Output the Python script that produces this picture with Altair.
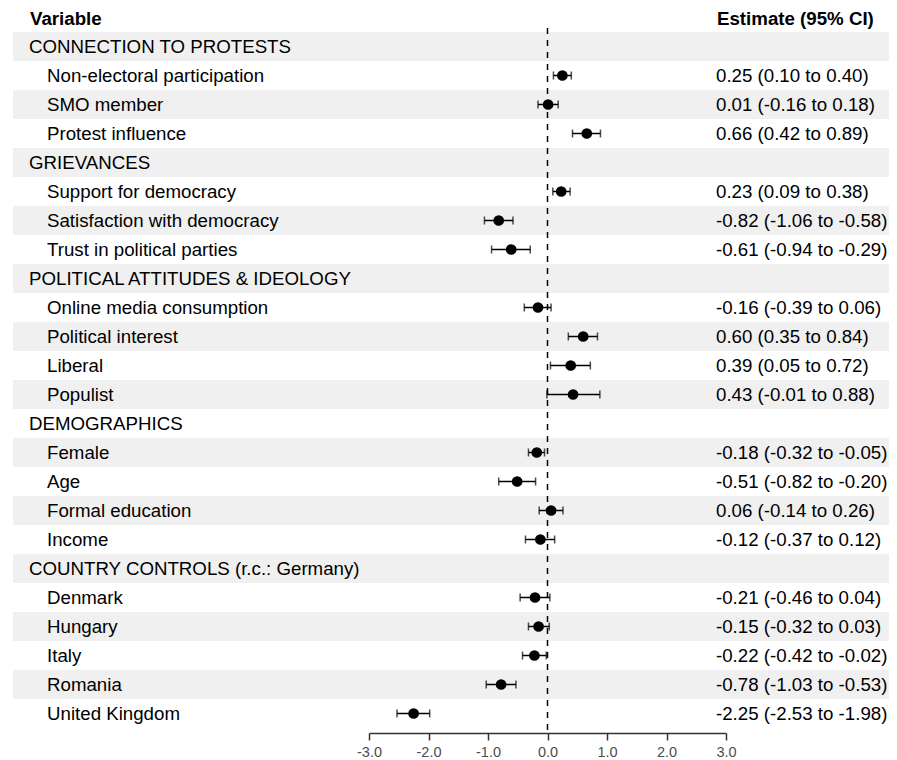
import altair as alt
import pandas as pd

labels = [
    "CONNECTION TO PROTESTS", "Non-electoral participation", "SMO member", "Protest influence",
    "GRIEVANCES", "Support for democracy", "Satisfaction with democracy", "Trust in political parties",
    "POLITICAL ATTITUDES & IDEOLOGY", "Online media consumption", "Political interest", "Liberal", "Populist",
    "DEMOGRAPHICS", "Female", "Age", "Formal education", "Income",
    "COUNTRY CONTROLS (r.c.: Germany)", "Denmark", "Hungary", "Italy", "Romania", "United Kingdom",
]
is_header = [1, 0, 0, 0, 1, 0, 0, 0, 1, 0, 0, 0, 0, 1, 0, 0, 0, 0, 1, 0, 0, 0, 0, 0]
estimate = [None, 0.25, 0.01, 0.66, None, 0.23, -0.82, -0.61, None, -0.16, 0.60, 0.39, 0.43,
            None, -0.18, -0.51, 0.06, -0.12, None, -0.21, -0.15, -0.22, -0.78, -2.25]
ci_low = [None, 0.10, -0.16, 0.42, None, 0.09, -1.06, -0.94, None, -0.39, 0.35, 0.05, -0.01,
          None, -0.32, -0.82, -0.14, -0.37, None, -0.46, -0.32, -0.42, -1.03, -2.53]
ci_high = [None, 0.40, 0.18, 0.89, None, 0.38, -0.58, -0.29, None, 0.06, 0.84, 0.72, 0.88,
           None, -0.05, -0.20, 0.26, 0.12, None, 0.04, 0.03, -0.02, -0.53, -1.98]
x_ticks = [-3, -2, -1, 0, 1, 2, 3]

def fmt(e, l, h):
    if e is None:
        return ""
    return f"{e:.2f} ({l:.2f} to {h:.2f})"

df = pd.DataFrame({
    "label": labels,
    "header": is_header,
    "est": estimate,
    "lo": ci_low,
    "hi": ci_high,
    "idx": list(range(len(labels))),
})
df["txt"] = [fmt(e, l, h) for e, l, h in zip(estimate, ci_low, ci_high)]

FONT = "Liberation Sans"
FS = 18.7
W = 357
H = 696

y_enc = alt.Y("label:N", sort=labels, axis=None,
              scale=alt.Scale(paddingInner=0, paddingOuter=0))
x_scale = alt.Scale(domain=[-3, 3], nice=False, zero=False)

base = alt.Chart(df)

shade = base.transform_filter("datum.idx % 2 == 0").mark_rect(color="#f0f0f0").encode(
    y=y_enc, x=alt.value(-356), x2=alt.value(520)
)

hdr_text = base.transform_filter("datum.header == 1").mark_text(
    align="left", baseline="middle", font=FONT, fontSize=FS, color="black"
).encode(y=y_enc, x=alt.value(-340), text="label:N")

item_text = base.transform_filter("datum.header == 0").mark_text(
    align="left", baseline="middle", font=FONT, fontSize=FS, color="black"
).encode(y=y_enc, x=alt.value(-322), text="label:N")

est_text = base.transform_filter("datum.header == 0").mark_text(
    align="left", baseline="middle", font=FONT, fontSize=FS, color="black"
).encode(y=y_enc, x=alt.value(347), text="txt:N")

zero_rule = alt.Chart(pd.DataFrame({"z": [0]})).mark_rule(
    color="black", strokeDash=[6, 6], strokeWidth=1.5
).encode(x=alt.X("z:Q", scale=x_scale), y=alt.value(-4), y2=alt.value(H + 5))

pts = base.transform_filter("datum.header == 0")

ci_line = pts.mark_rule(color="black", strokeWidth=1.5).encode(
    y=y_enc,
    x=alt.X("lo:Q", scale=x_scale,
            axis=alt.Axis(values=x_ticks, title=None, grid=False, offset=5,
                          labelExpr="datum.value < 0 ? '-' + format(-datum.value, '.1f') : format(datum.value, '.1f')",
                          tickSize=7, tickColor="#333333", domainColor="#333333",
                          tickWidth=1.5, domainWidth=1.5,
                          labelColor="#4d4d4d", labelFont=FONT, labelFontSize=14.5,
                          labelPadding=5, labelFlush=False, labelOverlap=False)),
    x2="hi:Q",
)
cap_lo = pts.mark_tick(color="black", orient="vertical", size=8, thickness=1.5).encode(
    y=y_enc, x=alt.X("lo:Q", scale=x_scale)
)
cap_hi = pts.mark_tick(color="black", orient="vertical", size=8, thickness=1.5).encode(
    y=y_enc, x=alt.X("hi:Q", scale=x_scale)
)
dots = pts.mark_circle(color="black", opacity=1, size=115).encode(
    y=y_enc, x=alt.X("est:Q", scale=x_scale)
)

head_l = alt.Chart(pd.DataFrame({"t": ["Variable"]})).mark_text(
    align="left", baseline="middle", font=FONT, fontSize=FS, fontWeight="bold", color="black"
).encode(x=alt.value(-339), y=alt.value(-13), text="t:N")
head_r = alt.Chart(pd.DataFrame({"t": ["Estimate (95% CI)"]})).mark_text(
    align="left", baseline="middle", font=FONT, fontSize=FS, fontWeight="bold", color="black"
).encode(x=alt.value(348), y=alt.value(-13), text="t:N")

chart = alt.layer(
    shade, zero_rule, ci_line, cap_lo, cap_hi, dots, hdr_text, item_text, est_text, head_l, head_r
).properties(
    width=W, height=H,
    padding={"left": 361, "top": 24, "right": 163, "bottom": 30},
    autosize=alt.AutoSizeParams(type="none"),
).configure_view(strokeWidth=0)

chart.save("out.html", embed_options={"renderer": "svg", "actions": False})
